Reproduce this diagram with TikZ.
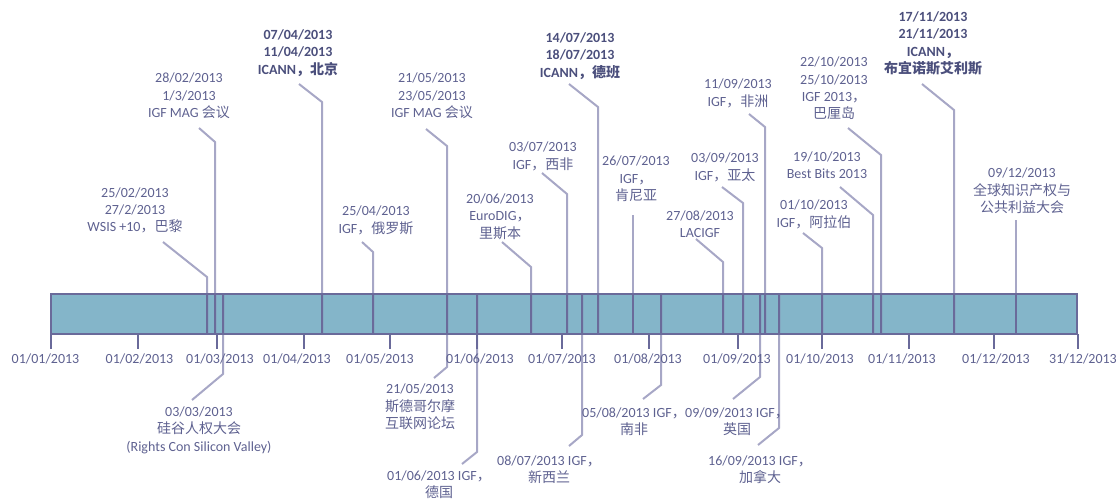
\documentclass[tikz,border=0pt]{standalone}
\usepackage{fontspec}
\setmainfont{Carlito}
\newfontfamily\cjk{Noto Sans CJK SC}
\newcommand\zh[1]{{\cjk #1}}
\newcommand\lblfont{\fontsize{10.5}{13}\selectfont}
\definecolor{txt}{HTML}{5E6190}
\definecolor{txtb}{HTML}{4B4F7C}
\definecolor{lc}{HTML}{A7A7C6}
\definecolor{dk}{HTML}{6A6A9A}
\definecolor{barfill}{HTML}{84B5C9}
\tikzset{
  lbl/.style={text=txt, align=center, inner sep=0pt, font=\lblfont},
  blbl/.style={lbl, font=\lblfont\bfseries, text=txtb},
  conn/.style={draw=lc, line width=1.5pt},
  tickm/.style={draw=dk, line width=1.5pt},
}
\newcommand\connectors{%
  % top events
  \draw[conn] (wsis-s) -- (wsis-e) -- (wsis-b);
  \draw[conn] (mag1-s) -- (mag1-e) -- (mag1-b);
  \draw[conn] (icbj-s) -- (icbj-e) -- (icbj-b);
  \draw[conn] (ru-s) -- (ru-e) -- (ru-b);
  \draw[conn] (mag2-s) -- (mag2-e) -- (mag2-b);
  \draw[conn] (euro-s) -- (euro-e) -- (euro-b);
  \draw[conn] (wafr-s) -- (wafr-e) -- (wafr-b);
  \draw[conn] (icdb-s) -- (icdb-e) -- (icdb-b);
  \draw[conn] (ken-s) -- (ken-b);
  \draw[conn] (lac-s) -- (lac-e) -- (lac-b);
  \draw[conn] (ap-s) -- (ap-e) -- (ap-b);
  \draw[conn] (afr-s) -- (afr-e) -- (afr-b);
  \draw[conn] (arab-s) -- (arab-e) -- (arab-b);
  \draw[conn] (bb-s) -- (bb-e) -- (bb-b);
  \draw[conn] (bali-s) -- (bali-e) -- (bali-b);
  \draw[conn] (icba-s) -- (icba-e) -- (icba-b);
  \draw[conn] (ip-s) -- (ip-b);
  % bottom events
  \draw[conn] (rc-t) -- (rc-e) -- (rc-s);
  \draw[conn] (sth-t) -- (sth-e) -- (sth-s);
  \draw[conn] (de-t) -- (de-e) -- (de-s);
  \draw[conn] (nz-t) -- (nz-e) -- (nz-s);
  \draw[conn] (za-t) -- (za-e) -- (za-s);
  \draw[conn] (uk-t) -- (uk-e) -- (uk-s);
  \draw[conn] (ca-t) -- (ca-e) -- (ca-s);
}
\begin{document}
\begin{tikzpicture}[x=0.75pt,y=-0.75pt]
\useasboundingbox (0,0) rectangle (1117,501);
% bar corners
\coordinate (barNW) at (51,294);
\coordinate (barSE) at (1077,334);
\fill[barfill] (barNW) rectangle (barSE);

% ---------- coordinates of connectors ----------
\coordinate (wsis-s) at (163,242); \coordinate (wsis-e) at (207,277); \coordinate (wsis-b) at (207,334);
\coordinate (mag1-s) at (199,128); \coordinate (mag1-e) at (215,142); \coordinate (mag1-b) at (215,334);
\coordinate (icbj-s) at (299,84);  \coordinate (icbj-e) at (322,102); \coordinate (icbj-b) at (322,334);
\coordinate (ru-s) at (362,242);   \coordinate (ru-e) at (373,252);   \coordinate (ru-b) at (373,334);
\coordinate (mag2-s) at (426,129); \coordinate (mag2-e) at (447,146); \coordinate (mag2-b) at (447,334);
\coordinate (euro-s) at (502,242); \coordinate (euro-e) at (531,267); \coordinate (euro-b) at (531,334);
\coordinate (wafr-s) at (542,173); \coordinate (wafr-e) at (567,194); \coordinate (wafr-b) at (567,334);
\coordinate (icdb-s) at (569,84);  \coordinate (icdb-e) at (598,107); \coordinate (icdb-b) at (598,334);
\coordinate (ken-s) at (633,215);  \coordinate (ken-b) at (633,334);
\coordinate (lac-s) at (696,239);  \coordinate (lac-e) at (723,262);  \coordinate (lac-b) at (723,334);
\coordinate (ap-s) at (722,187);   \coordinate (ap-e) at (743,203);   \coordinate (ap-b) at (743,334);
\coordinate (afr-s) at (749,114);  \coordinate (afr-e) at (765,127);  \coordinate (afr-b) at (765,334);
\coordinate (arab-s) at (803,233); \coordinate (arab-e) at (822,248); \coordinate (arab-b) at (822,334);
\coordinate (bb-s) at (840,187);   \coordinate (bb-e) at (873,215);   \coordinate (bb-b) at (873,334);
\coordinate (bali-s) at (848,128); \coordinate (bali-e) at (881,155); \coordinate (bali-b) at (881,334);
\coordinate (icba-s) at (922,84);  \coordinate (icba-e) at (954,110); \coordinate (icba-b) at (954,334);
\coordinate (ip-s) at (1016,220);  \coordinate (ip-b) at (1016,334);
\coordinate (rc-t) at (223,294);   \coordinate (rc-e) at (223,374);   \coordinate (rc-s) at (192,400);
\coordinate (sth-t) at (447,334);  \coordinate (sth-e) at (447,367);  \coordinate (sth-s) at (434,378);
\coordinate (de-t) at (477,294);   \coordinate (de-e) at (477,452);   \coordinate (de-s) at (462,464);
\coordinate (nz-t) at (582,294);   \coordinate (nz-e) at (582,435);   \coordinate (nz-s) at (569,446);
\coordinate (za-t) at (661,294);   \coordinate (za-e) at (661,385);   \coordinate (za-s) at (643,399);
\coordinate (uk-t) at (760,294);   \coordinate (uk-e) at (760,377);   \coordinate (uk-s) at (733,399);
\coordinate (ca-t) at (779,294);   \coordinate (ca-e) at (779,428);   \coordinate (ca-s) at (758,445);

% connectors, light outside the bar
\connectors
% darker where they cross the bar
\begin{scope}[conn/.style={draw=dk, line width=1.5pt}]
  \clip (barNW) rectangle (barSE);
  \connectors
\end{scope}
\draw[dk, line width=1.5pt] (barNW) rectangle (barSE);

% ---------- month ticks ----------
\foreach \n/\x/\lx/\t in {m1/51/45.5/01\slash 01\slash 2013, m2/138/139.5/01\slash 02\slash 2013,
  m3/217/220/01\slash 03\slash 2013, m4/304/297/01\slash 04\slash 2013,
  m5/390/380/01\slash 05\slash 2013, m6/477/480/01\slash 06\slash 2013,
  m7/562/562/01\slash 07\slash 2013, m8/649/648/01\slash 08\slash 2013,
  m9/738/737/01\slash 09\slash 2013, m10/822/820/01\slash 10\slash 2013,
  m11/909/902/01\slash 11\slash 2013, m12/994/996/01\slash 12\slash 2013,
  m13/1078/1083/31\slash 12\slash 2013}{
  \coordinate (\n-a) at (\x,334);
  \coordinate (\n-z) at (\x,349);
  \draw[tickm] (\n-a) -- (\n-z);
  \node[lbl] (\n-l) at (\lx,359) {\t};
}

% ---------- top labels ----------
\node[lbl]  (wsis) at (135,210.5) {25/02/2013\\27/2/2013\\WSIS +10\zh{，巴黎}};
\node[lbl]  (mag1) at (189,96)    {28/02/2013\\1/3/2013\\IGF MAG \zh{会议}};
\node[blbl] (icbj) at (298,53)    {07/04/2013\\11/04/2013\\ICANN\zh{，北京}};
\node[lbl]  (ru)   at (376,220.5) {25/04/2013\\IGF\zh{，俄罗斯}};
\node[lbl]  (mag2) at (432,96)    {21/05/2013\\23/05/2013\\IGF MAG \zh{会议}};
\node[lbl]  (euro) at (500,216.5) {20/06/2013\\EuroDIG\zh{，}\\\zh{里斯本}};
\node[lbl]  (wafr) at (543,156.5) {03/07/2013\\IGF\zh{，西非}};
\node[blbl] (icdb) at (580,56)    {14/07/2013\\18/07/2013\\ICANN\zh{，德班}};
\node[lbl]  (ken)  at (636,179)   {26/07/2013\\IGF\zh{，}\\\zh{肯尼亚}};
\node[lbl]  (lac)  at (700,224.5) {27/08/2013\\LACIGF};
\node[lbl]  (ap)   at (725,167.5) {03/09/2013\\IGF\zh{，亚太}};
\node[lbl]  (afr)  at (738,93.5)  {11/09/2013\\IGF\zh{，非洲}};
\node[lbl]  (arab) at (814,214.5) {01/10/2013\\IGF\zh{，阿拉伯}};
\node[lbl]  (bb)   at (827,165.5) {19/10/2013\\Best Bits 2013};
\node[lbl]  (bali) at (834,88.5)  {22/10/2013\\25/10/2013\\IGF 2013\zh{，}\\\zh{巴厘岛}};
\node[blbl] (icba) at (933,43.5)  {17/11/2013\\21/11/2013\\ICANN\zh{，}\\\zh{布宜诺斯艾利斯}};
\node[lbl]  (ip)   at (1022,191)  {09/12/2013\\\zh{全球知识产权与}\\\zh{公共利益大会}};

% ---------- bottom labels ----------
\node[lbl]  (rc)  at (199,430)   {03/03/2013\\\zh{硅谷人权大会}\\(Rights Con Silicon Valley)};
\node[lbl]  (sth) at (420,407)   {21/05/2013\\\zh{斯德哥尔摩}\\\zh{互联网论坛}};
\node[lbl]  (de)  at (439,485)   {01/06/2013 IGF\zh{，}\\\zh{德国}};
\node[lbl]  (nz)  at (549,469.5) {08/07/2013 IGF\zh{，}\\\zh{新西兰}};
\node[lbl]  (za)  at (634,421.5) {05/08/2013 IGF\zh{，}\\\zh{南非}};
\node[lbl]  (uk)  at (737,421.5) {09/09/2013 IGF\zh{，}\\\zh{英国}};
\node[lbl]  (ca)  at (760,470)   {16/09/2013 IGF\zh{，}\\\zh{加拿大}};
\end{tikzpicture}
\end{document}
